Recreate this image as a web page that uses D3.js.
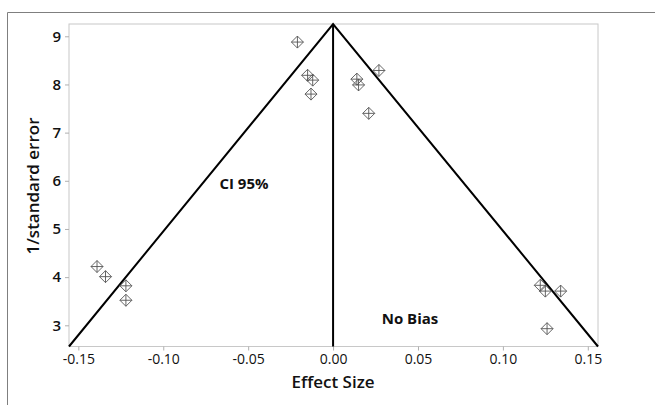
<!doctype html>
<html>
<head>
<meta charset="utf-8">
<script src="https://cdn.jsdelivr.net/npm/d3@7/dist/d3.min.js"></script>
<style>
  body { margin: 0; background: #fff; }
  svg text { font-family: "Open Sans", "Noto Sans", sans-serif; fill: #111; }
</style>
</head>
<body>
<div id="chart"></div>
<script>
// study effects
var effect = [-0.139, -0.134, -0.122, -0.122,
              -0.021, -0.015, -0.012, -0.013,
               0.014,  0.015,  0.027,  0.021,
               0.122,  0.125,  0.134,  0.126];
var precision = [4.22, 4.01, 3.82, 3.52,
                 8.88, 8.19, 8.09, 7.80,
                 8.11, 7.99, 8.29, 7.40,
                 3.83, 3.71, 3.71, 2.93];
var xTicks = [-0.15, -0.10, -0.05, 0.00, 0.05, 0.10, 0.15];
var yTicks = [3, 4, 5, 6, 7, 8, 9];
var xDomain = [-0.1555, 0.156];
var yDomain = [2.56, 9.255];
var apex = [0, 9.255];

var W = 655, H = 405;
var pl = 69, pt = 24, pr = 598, pb = 346.5;

var svg = d3.select('#chart').append('svg')
  .attr('width', W).attr('height', H);

// outer frame
svg.append('path')
  .attr('d', 'M7.5,' + H + ' V12.5 H' + W)
  .attr('fill', 'none').attr('stroke', '#7f7f7f').attr('stroke-width', 1);

var x = d3.scaleLinear().domain(xDomain).range([pl, pr]);
var y = d3.scaleLinear().domain(yDomain).range([pb, pt]);

svg.append('rect')
  .attr('x', pl).attr('y', pt)
  .attr('width', pr - pl).attr('height', pb - pt)
  .attr('fill', 'none').attr('stroke', '#c8c8c8').attr('stroke-width', 1);

var fmt = function(d) { return d3.format('.2f')(d).replace('\u2212', '-'); };
var xAxis = svg.append('g')
  .attr('transform', 'translate(0,' + pb + ')')
  .call(d3.axisBottom(x).tickValues(xTicks).tickFormat(fmt).tickSize(4).tickPadding(4));
var yAxis = svg.append('g')
  .attr('transform', 'translate(' + pl + ',0)')
  .call(d3.axisLeft(y).tickValues(yTicks).tickFormat(d3.format('d')).tickSize(4).tickPadding(4));

[xAxis, yAxis].forEach(function(g) {
  g.select('.domain').remove();
  g.selectAll('.tick line').attr('stroke', '#b0b0b0');
  g.selectAll('.tick text').style('font-size', '14px').attr('fill', '#111');
});
yAxis.selectAll('.tick text').style('font-size', '15px').style('font-weight', '600');

// funnel and no-bias line
var line = d3.line().x(function(d) { return x(d[0]); }).y(function(d) { return y(d[1]); });
svg.append('path')
  .attr('d', line([[xDomain[0], yDomain[0]], apex, [xDomain[1], yDomain[0]]]))
  .attr('fill', 'none').attr('stroke', '#000').attr('stroke-width', 2);
svg.append('path')
  .attr('d', line([[0, yDomain[0]], apex]))
  .attr('fill', 'none').attr('stroke', '#000').attr('stroke-width', 2);

// diamond-plus markers
var pts = effect.map(function(e, i) { return [e, precision[i]]; });
var m = svg.selectAll('g.pt').data(pts).enter().append('g')
  .attr('class', 'pt')
  .attr('transform', function(d) { return 'translate(' + x(d[0]) + ',' + y(d[1]) + ')'; });
m.append('path')
  .attr('d', 'M0,-6 L6,0 L0,6 L-6,0 Z M0,-6 V6 M-6,0 H6')
  .attr('fill', 'none').attr('stroke', '#555').attr('stroke-width', 0.9);

svg.append('text').attr('x', 244).attr('y', 189)
  .attr('text-anchor', 'middle').style('font-size', '15px').style('font-weight', 'bold')
  .text('CI 95%');
svg.append('text').attr('x', 410).attr('y', 324)
  .attr('text-anchor', 'middle').style('font-size', '15px').style('font-weight', 'bold')
  .text('No Bias');

svg.append('text').attr('x', 333).attr('y', 388)
  .attr('text-anchor', 'middle').style('font-size', '17px').style('font-weight', '600')
  .text('Effect Size');
svg.append('text')
  .attr('transform', 'translate(39,186) rotate(-90)')
  .attr('text-anchor', 'middle').style('font-size', '17px').style('font-weight', '600')
  .text('1/standard error');
</script>
</body>
</html>
